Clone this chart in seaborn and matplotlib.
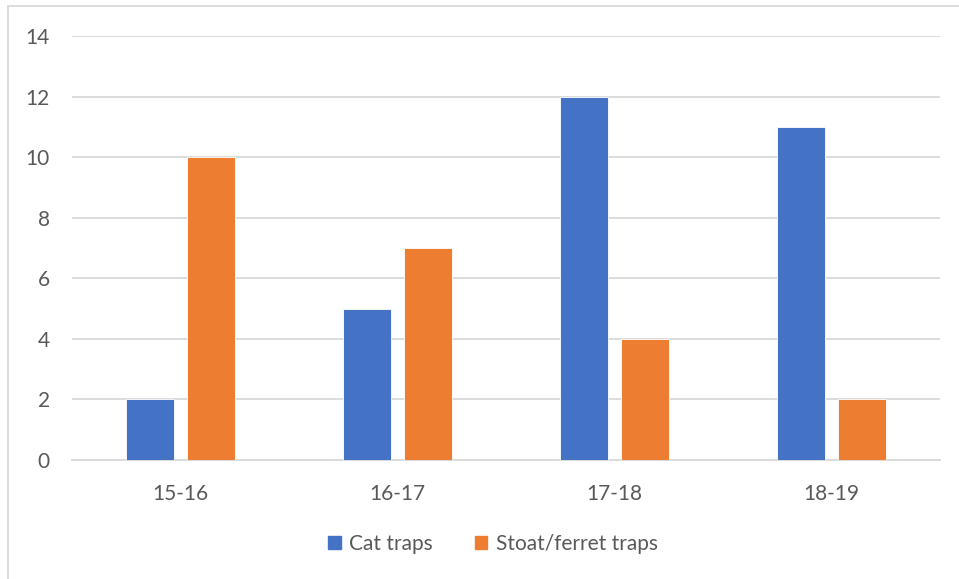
import matplotlib
matplotlib.use("Agg")
import matplotlib.pyplot as plt
import matplotlib.patches as mpatches
import pandas as pd
import seaborn as sns

seasons = ["15-16", "16-17", "17-18", "18-19"]
cat_traps = [2, 5, 12, 11]
stoat_ferret_traps = [10, 7, 4, 2]
series_names = ["Cat traps", "Stoat/ferret traps"]
colors = ["#4472C4", "#ED7D31"]
y_ticks = [0, 2, 4, 6, 8, 10, 12, 14]

df = pd.DataFrame({
    "season": seasons * 2,
    "count": cat_traps + stoat_ferret_traps,
    "trap": [series_names[0]] * len(seasons) + [series_names[1]] * len(seasons),
})

sns.set_theme(style="white")
plt.rcParams["font.family"] = ["Lato", "DejaVu Sans"]
text_color = "#595959"
grid_color = "#D9D9D9"

fig = plt.figure(figsize=(9.59, 5.79), dpi=100)
ax = fig.add_axes([72 / 959, 1 - 460 / 579, (940 - 72) / 959, (460 - 36) / 579])

sns.barplot(data=df, x="season", y="count", hue="trap", order=seasons,
            hue_order=series_names, palette=colors, width=0.567, gap=0.22,
            saturation=1, ax=ax, legend=False, zorder=3, linewidth=0.6,
            edgecolor="white")

ax.set_xlim(-0.5, 3.5)
ax.set_ylim(0, 14)
ax.set_yticks(y_ticks)
ax.set_yticklabels([str(t) for t in y_ticks])
ax.yaxis.grid(True, color=grid_color, linewidth=1.3, zorder=0)
ax.set_axisbelow(True)
for side in ["top", "right", "left"]:
    ax.spines[side].set_visible(False)
ax.spines["bottom"].set_color(grid_color)
ax.spines["bottom"].set_linewidth(1.3)
ax.set_xlabel("")
ax.set_ylabel("")
ax.tick_params(axis="both", length=0, labelsize=15, labelcolor=text_color)
ax.tick_params(axis="y", pad=16)
ax.tick_params(axis="x", pad=17)

handles = [mpatches.Patch(color=c, label=n) for c, n in zip(colors, series_names)]
leg = fig.legend(handles=handles, loc="center", bbox_to_anchor=(493 / 959, 1 - 544 / 579),
                 ncol=2, frameon=False, fontsize=15, handlelength=0.6, handleheight=0.6,
                 handletextpad=0.4, columnspacing=2.0)
for t in leg.get_texts():
    t.set_color(text_color)

# chart frame
fig.patches.append(mpatches.Rectangle((8 / 959, -0.02), 1.1, 1 - 6 / 579 + 0.02,
                                      transform=fig.transFigure, fill=False,
                                      edgecolor=grid_color, linewidth=1.3))

fig.savefig("out.png", dpi=100)
